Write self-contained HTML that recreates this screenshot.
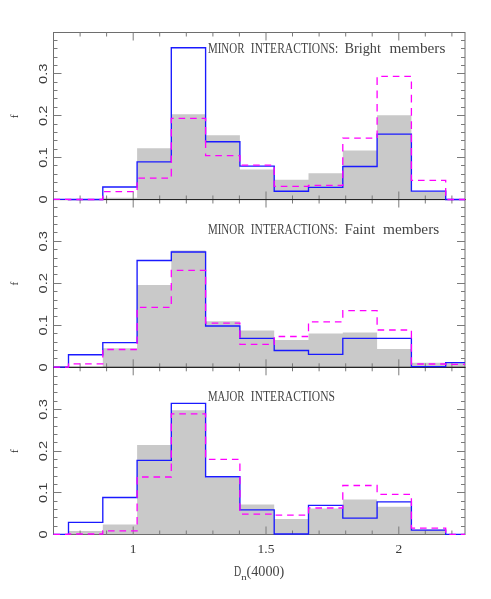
<!DOCTYPE html>
<html><head><meta charset="utf-8"><title>Dn4000 histograms</title>
<style>html,body{margin:0;padding:0;background:#fff;}body{width:491px;height:599px;overflow:hidden;font-family:"Liberation Sans",sans-serif;}svg{display:block;will-change:transform;}</style></head>
<body>
<svg width="491" height="599" viewBox="0 0 491 599">
<rect width="491" height="599" fill="#fff"/>
<path d="M68.5,199.5 L68.5,199.5 L102.8,199.5 L102.8,197.7 L137.1,197.7 L137.1,148.2 L171.3,148.2 L171.3,114.2 L205.6,114.2 L205.6,135.2 L239.9,135.2 L239.9,169.4 L274.2,169.4 L274.2,179.8 L308.5,179.8 L308.5,173.3 L342.8,173.3 L342.8,150.4 L377.1,150.4 L377.1,115.2 L411.4,115.2 L411.4,191.5 L445.7,191.5 L445.7,199.5 L465.0,199.5 L465.0,199.5 Z" fill="#c9c9c9"/>
<path d="M68.5,367.3 L68.5,367.3 L102.8,367.3 L102.8,348.2 L137.1,348.2 L137.1,285.0 L171.3,285.0 L171.3,250.4 L205.6,250.4 L205.6,321.2 L239.9,321.2 L239.9,330.6 L274.2,330.6 L274.2,340.0 L308.5,340.0 L308.5,333.5 L342.8,333.5 L342.8,332.6 L377.1,332.6 L377.1,348.9 L411.4,348.9 L411.4,362.8 L445.7,362.8 L445.7,363.2 L465.0,363.2 L465.0,367.3 Z" fill="#c9c9c9"/>
<path d="M68.5,534.5 L68.5,530.9 L102.8,530.9 L102.8,524.4 L137.1,524.4 L137.1,445.1 L171.3,445.1 L171.3,410.2 L205.6,410.2 L205.6,477.5 L239.9,477.5 L239.9,504.4 L274.2,504.4 L274.2,519.1 L308.5,519.1 L308.5,508.6 L342.8,508.6 L342.8,499.5 L377.1,499.5 L377.1,506.7 L411.4,506.7 L411.4,529.5 L445.7,529.5 L445.7,534.5 L465.0,534.5 L465.0,534.5 Z" fill="#c9c9c9"/>
<rect x="53.5" y="32.5" width="411.5" height="167.0" fill="none" stroke="#6e6e6e" stroke-width="1"/>
<path d="M80.1,199.5v-4M80.1,32.5v4M106.6,199.5v-4M106.6,32.5v4M133.2,199.5v-8M133.2,32.5v8M159.7,199.5v-4M159.7,32.5v4M186.3,199.5v-4M186.3,32.5v4M212.9,199.5v-4M212.9,32.5v4M239.4,199.5v-4M239.4,32.5v4M266.0,199.5v-8M266.0,32.5v8M292.5,199.5v-4M292.5,32.5v4M319.1,199.5v-4M319.1,32.5v4M345.7,199.5v-4M345.7,32.5v4M372.2,199.5v-4M372.2,32.5v4M398.8,199.5v-8M398.8,32.5v8M425.3,199.5v-4M425.3,32.5v4M451.9,199.5v-4M451.9,32.5v4M53.5,199.5h8M465.0,199.5h-8M53.5,191.5h4M465.0,191.5h-4M53.5,182.5h4M465.0,182.5h-4M53.5,174.5h4M465.0,174.5h-4M53.5,165.5h4M465.0,165.5h-4M53.5,157.5h8M465.0,157.5h-8M53.5,149.5h4M465.0,149.5h-4M53.5,140.5h4M465.0,140.5h-4M53.5,132.5h4M465.0,132.5h-4M53.5,124.5h4M465.0,124.5h-4M53.5,115.5h8M465.0,115.5h-8M53.5,107.5h4M465.0,107.5h-4M53.5,98.5h4M465.0,98.5h-4M53.5,90.5h4M465.0,90.5h-4M53.5,82.5h4M465.0,82.5h-4M53.5,73.5h8M465.0,73.5h-8M53.5,65.5h4M465.0,65.5h-4M53.5,57.5h4M465.0,57.5h-4M53.5,48.5h4M465.0,48.5h-4M53.5,40.5h4M465.0,40.5h-4" fill="none" stroke="#7a7a7a" stroke-width="1"/>
<rect x="53.5" y="199.5" width="411.5" height="167.8" fill="none" stroke="#6e6e6e" stroke-width="1"/>
<path d="M80.1,367.3v-4M80.1,199.5v4M106.6,367.3v-4M106.6,199.5v4M133.2,367.3v-8M133.2,199.5v8M159.7,367.3v-4M159.7,199.5v4M186.3,367.3v-4M186.3,199.5v4M212.9,367.3v-4M212.9,199.5v4M239.4,367.3v-4M239.4,199.5v4M266.0,367.3v-8M266.0,199.5v8M292.5,367.3v-4M292.5,199.5v4M319.1,367.3v-4M319.1,199.5v4M345.7,367.3v-4M345.7,199.5v4M372.2,367.3v-4M372.2,199.5v4M398.8,367.3v-8M398.8,199.5v8M425.3,367.3v-4M425.3,199.5v4M451.9,367.3v-4M451.9,199.5v4M53.5,367.5h8M465.0,367.5h-8M53.5,358.5h4M465.0,358.5h-4M53.5,350.5h4M465.0,350.5h-4M53.5,342.5h4M465.0,342.5h-4M53.5,333.5h4M465.0,333.5h-4M53.5,325.5h8M465.0,325.5h-8M53.5,316.5h4M465.0,316.5h-4M53.5,308.5h4M465.0,308.5h-4M53.5,300.5h4M465.0,300.5h-4M53.5,291.5h4M465.0,291.5h-4M53.5,283.5h8M465.0,283.5h-8M53.5,274.5h4M465.0,274.5h-4M53.5,266.5h4M465.0,266.5h-4M53.5,258.5h4M465.0,258.5h-4M53.5,249.5h4M465.0,249.5h-4M53.5,241.5h8M465.0,241.5h-8M53.5,232.5h4M465.0,232.5h-4M53.5,224.5h4M465.0,224.5h-4M53.5,216.5h4M465.0,216.5h-4M53.5,207.5h4M465.0,207.5h-4" fill="none" stroke="#7a7a7a" stroke-width="1"/>
<rect x="53.5" y="367.3" width="411.5" height="167.2" fill="none" stroke="#6e6e6e" stroke-width="1"/>
<path d="M80.1,534.5v-4M80.1,367.3v4M106.6,534.5v-4M106.6,367.3v4M133.2,534.5v-8M133.2,367.3v8M159.7,534.5v-4M159.7,367.3v4M186.3,534.5v-4M186.3,367.3v4M212.9,534.5v-4M212.9,367.3v4M239.4,534.5v-4M239.4,367.3v4M266.0,534.5v-8M266.0,367.3v8M292.5,534.5v-4M292.5,367.3v4M319.1,534.5v-4M319.1,367.3v4M345.7,534.5v-4M345.7,367.3v4M372.2,534.5v-4M372.2,367.3v4M398.8,534.5v-8M398.8,367.3v8M425.3,534.5v-4M425.3,367.3v4M451.9,534.5v-4M451.9,367.3v4M53.5,534.5h8M465.0,534.5h-8M53.5,526.5h4M465.0,526.5h-4M53.5,517.5h4M465.0,517.5h-4M53.5,509.5h4M465.0,509.5h-4M53.5,501.5h4M465.0,501.5h-4M53.5,492.5h8M465.0,492.5h-8M53.5,484.5h4M465.0,484.5h-4M53.5,476.5h4M465.0,476.5h-4M53.5,467.5h4M465.0,467.5h-4M53.5,459.5h4M465.0,459.5h-4M53.5,451.5h8M465.0,451.5h-8M53.5,442.5h4M465.0,442.5h-4M53.5,434.5h4M465.0,434.5h-4M53.5,426.5h4M465.0,426.5h-4M53.5,417.5h4M465.0,417.5h-4M53.5,409.5h8M465.0,409.5h-8M53.5,401.5h4M465.0,401.5h-4M53.5,392.5h4M465.0,392.5h-4M53.5,384.5h4M465.0,384.5h-4M53.5,376.5h4M465.0,376.5h-4" fill="none" stroke="#7a7a7a" stroke-width="1"/>
<path d="M53.0,199.6H465.5M53.0,367.4H465.5" stroke="#1c1c1c" stroke-width="1" fill="none"/>
<path d="M53.5,199.3 L68.5,199.3 L68.5,199.5 L102.8,199.5 L102.8,187.0 L137.1,187.0 L137.1,161.9 L171.3,161.9 L171.3,47.7 L205.6,47.7 L205.6,141.7 L239.9,141.7 L239.9,166.1 L274.2,166.1 L274.2,191.2 L308.5,191.2 L308.5,187.3 L342.8,187.3 L342.8,166.5 L377.1,166.5 L377.1,134.1 L411.4,134.1 L411.4,191.1 L445.7,191.1 L445.7,199.5 L465.0,199.5" fill="none" stroke="#1a1aff" stroke-width="1.35" stroke-linejoin="miter"/>
<path d="M53.5,199.3L60.1,199.3M65.0,199.3L68.5,199.3L68.5,199.5L71.4,199.5M76.3,199.5L82.9,199.5M87.8,199.5L94.4,199.5M99.3,199.5L102.8,199.5L102.8,195.8M104.0,191.6L110.6,191.6L110.6,191.6M115.5,191.6L122.1,191.6L122.1,191.6M127.0,191.6L133.6,191.6L133.6,191.6M137.1,189.9L137.1,182.3L137.1,182.3M138.4,178.2L145.0,178.2L145.0,178.2M149.9,178.2L156.5,178.2L156.5,178.2M161.4,178.2L168.0,178.2L168.0,178.2M171.3,176.4L171.3,168.8L171.3,168.8M171.3,163.1L171.3,155.5L171.3,155.5M171.3,149.8L171.3,142.2L171.3,142.2M171.3,136.5L171.3,128.9L171.3,128.9M171.3,123.2L171.3,118.3L173.7,118.3L173.7,118.3M178.6,118.3L185.2,118.3L185.2,118.3M190.1,118.3L196.7,118.3L196.7,118.3M201.6,118.3L205.6,118.3L205.6,121.3L205.6,121.3M205.6,126.9L205.6,134.6L205.6,134.6M205.6,140.2L205.6,147.9L205.6,147.9M205.6,153.5L205.6,155.7L210.4,155.7M215.3,155.7L221.9,155.7M226.8,155.7L233.4,155.7M238.3,155.7L239.9,155.7L239.9,161.4M241.6,165.2L248.2,165.2M253.1,165.2L259.7,165.2M264.6,165.2L271.2,165.2M274.2,167.3L274.2,174.9M274.2,180.6L274.2,186.3L275.9,186.3M280.8,186.3L287.4,186.3M292.3,186.3L298.9,186.3M303.8,186.3L308.5,186.3L308.5,185.4L309.7,185.4M314.6,185.4L321.2,185.4M326.1,185.4L332.7,185.4M337.6,185.4L342.8,185.4L342.8,183.9M342.8,178.2L342.8,170.6M342.8,164.9L342.8,157.3M342.8,151.6L342.8,144.0M342.8,138.3L342.8,138.2L349.3,138.2M354.2,138.2L360.8,138.2M365.7,138.2L372.3,138.2M377.1,138.1L377.1,130.5M377.1,124.8L377.1,117.2M377.1,111.5L377.1,103.9M377.1,98.2L377.1,90.6M377.1,84.9L377.1,77.3M381.3,76.4L387.9,76.4M392.8,76.4L399.4,76.4M404.3,76.4L410.9,76.4M411.4,81.4L411.4,89.1M411.4,94.7L411.4,102.4M411.4,108.0L411.4,115.7M411.4,121.3L411.4,129.0M411.4,134.6L411.4,142.3M411.4,147.9L411.4,155.6M411.4,161.2L411.4,168.9M411.4,174.5L411.4,180.3L413.1,180.3M418.0,180.3L424.6,180.3M429.5,180.3L436.1,180.3M441.0,180.3L445.7,180.3L445.7,182.4M445.7,188.1L445.7,195.7M447.4,199.5L454.0,199.5M458.9,199.5L465.0,199.5" fill="none" stroke="#ff00ff" stroke-width="1.3" stroke-linejoin="miter"/>
<path d="M53.5,367.1 L68.5,367.1 L68.5,354.7 L102.8,354.7 L102.8,342.6 L137.1,342.6 L137.1,260.5 L171.3,260.5 L171.3,252.0 L205.6,252.0 L205.6,326.0 L239.9,326.0 L239.9,338.4 L274.2,338.4 L274.2,350.5 L308.5,350.5 L308.5,354.4 L342.8,354.4 L342.8,338.3 L377.1,338.3 L377.1,338.3 L411.4,338.3 L411.4,366.6 L445.7,366.6 L445.7,362.6 L465.0,362.6" fill="none" stroke="#1a1aff" stroke-width="1.35" stroke-linejoin="miter"/>
<path d="M53.5,367.1L60.1,367.1M65.0,367.1L68.5,367.1L68.5,363.8L68.7,363.8M73.6,363.8L80.2,363.8M85.1,363.8L91.7,363.8M96.6,363.8L102.8,363.8L102.8,363.2M102.8,357.6L102.8,349.9L102.8,349.9M107.3,349.5L113.9,349.5L113.9,349.5M118.8,349.5L125.4,349.5L125.4,349.5M130.3,349.5L136.9,349.5L136.9,349.5M137.1,344.0L137.1,336.4L137.1,336.4M137.1,330.7L137.1,323.1L137.1,323.1M137.1,317.4L137.1,309.8L137.1,309.8M139.9,307.4L146.5,307.4L146.5,307.4M151.4,307.4L158.0,307.4L158.0,307.4M162.9,307.4L169.5,307.4L169.5,307.4M171.3,303.9L171.3,296.3L171.3,296.3M171.3,290.6L171.3,283.0L171.3,283.0M171.3,277.3L171.3,270.3L171.9,270.3L171.9,270.3M176.8,270.3L183.4,270.3L183.4,270.3M188.3,270.3L194.9,270.3L194.9,270.3M199.8,270.3L205.6,270.3L205.6,271.2L205.6,271.2M205.6,276.8L205.6,284.5L205.6,284.5M205.6,290.1L205.6,297.8M205.6,303.4L205.6,311.1M205.6,316.7L205.6,323.1L206.8,323.1M211.7,323.1L218.3,323.1M223.2,323.1L229.8,323.1M234.7,323.1L239.9,323.1L239.9,324.6M239.9,330.3L239.9,337.9M239.9,343.6L239.9,344.3L245.9,344.3M250.8,344.3L257.4,344.3M262.3,344.3L268.9,344.3M273.8,344.3L274.2,344.3L274.2,337.2M278.6,336.5L285.2,336.5M290.1,336.5L296.7,336.5M301.6,336.5L308.2,336.5M308.5,331.3L308.5,323.6M311.9,321.8L318.5,321.8M323.4,321.8L330.0,321.8M334.9,321.8L341.5,321.8M342.8,317.7L342.8,310.7L343.4,310.7M348.3,310.7L354.9,310.7M359.8,310.7L366.4,310.7M371.3,310.7L377.1,310.7L377.1,311.5M377.1,317.2L377.1,324.8M377.6,330.0L384.2,330.0M389.1,330.0L395.7,330.0M400.6,330.0L407.2,330.0M411.4,330.7L411.4,338.4M411.4,344.0L411.4,351.7M411.4,357.3L411.4,364.0L412.3,364.0M417.2,364.0L423.8,364.0M428.7,364.0L435.3,364.0M440.2,364.0L445.7,364.0L445.7,364.3L446.5,364.3M451.4,364.3L458.0,364.3M462.9,364.3L465.0,364.3" fill="none" stroke="#ff00ff" stroke-width="1.3" stroke-linejoin="miter"/>
<path d="M53.5,534.3 L68.5,534.3 L68.5,522.3 L102.8,522.3 L102.8,497.5 L137.1,497.5 L137.1,460.4 L171.3,460.4 L171.3,403.4 L205.6,403.4 L205.6,476.7 L239.9,476.7 L239.9,509.9 L274.2,509.9 L274.2,534.0 L308.5,534.0 L308.5,505.4 L342.8,505.4 L342.8,518.1 L377.1,518.1 L377.1,501.8 L411.4,501.8 L411.4,530.1 L445.7,530.1 L445.7,534.3 L465.0,534.3" fill="none" stroke="#1a1aff" stroke-width="1.35" stroke-linejoin="miter"/>
<path d="M53.5,534.3L60.1,534.3M65.0,534.3L68.5,534.3L68.5,534.0L71.3,534.0M76.2,534.0L82.8,534.0M87.7,534.0L94.3,534.0M99.2,534.0L102.8,534.0L102.8,530.8L103.1,530.8M108.0,530.8L114.6,530.8L114.6,530.8M119.5,530.8L126.1,530.8L126.1,530.8M131.0,530.8L137.1,530.8L137.1,530.2L137.1,530.2M137.1,524.5L137.1,516.9L137.1,516.9M137.1,511.2L137.1,503.6L137.1,503.6M137.1,497.9L137.1,490.3L137.1,490.3M137.1,484.6L137.1,477.0L137.1,477.0L137.1,477.0M142.0,477.0L148.6,477.0L148.6,477.0M153.5,477.0L160.1,477.0L160.1,477.0M165.0,477.0L171.3,477.0L171.3,476.8L171.3,476.8M171.3,471.1L171.3,463.5L171.3,463.5M171.3,457.8L171.3,450.2L171.3,450.2M171.3,444.5L171.3,436.9L171.3,436.9M171.3,431.2L171.3,423.6L171.3,423.6M171.3,417.9L171.3,413.8L174.4,413.8L174.4,413.8M179.3,413.8L185.9,413.8L185.9,413.8M190.8,413.8L197.4,413.8L197.4,413.8M202.3,413.8L205.6,413.8L205.6,417.6M205.6,423.2L205.6,430.9M205.6,436.5L205.6,444.2M205.6,449.8L205.6,457.5M208.9,459.4L215.5,459.4M220.4,459.4L227.0,459.4M231.9,459.4L238.5,459.4M239.9,463.4L239.9,471.0M239.9,476.7L239.9,484.3M239.9,490.0L239.9,497.6M239.9,503.3L239.9,510.9M242.0,514.2L248.6,514.2M253.5,514.2L260.1,514.2M265.0,514.2L271.6,514.2M275.6,515.2L282.2,515.2M287.1,515.2L293.7,515.2M298.6,515.2L305.2,515.2M308.5,513.4L308.5,508.0L310.5,508.0M315.4,508.0L322.0,508.0M326.9,508.0L333.5,508.0M338.4,508.0L342.8,508.0L342.8,505.5M342.8,499.8L342.8,492.2M342.8,486.5L342.8,485.5L348.6,485.5M353.5,485.5L360.1,485.5M365.0,485.5L371.6,485.5M376.5,485.5L377.1,485.5L377.1,492.3M380.4,494.3L387.0,494.3M391.9,494.3L398.5,494.3M403.4,494.3L410.0,494.3M411.4,498.2L411.4,505.9M411.4,511.5L411.4,519.2M411.4,524.8L411.4,528.2L415.1,528.2M420.0,528.2L426.6,528.2M431.5,528.2L438.1,528.2M443.0,528.2L445.7,528.2L445.7,532.7M449.3,534.3L455.9,534.3M460.8,534.3L465.0,534.3" fill="none" stroke="#ff00ff" stroke-width="1.3" stroke-linejoin="miter"/>
<text x="207.9" y="53.0" font-family="Liberation Serif, serif" font-size="15" fill="#444" textLength="36.6" lengthAdjust="spacingAndGlyphs">MINOR</text>
<text x="250.8" y="53.0" font-family="Liberation Serif, serif" font-size="15" fill="#444" textLength="87.4" lengthAdjust="spacingAndGlyphs">INTERACTIONS:</text>
<text x="344.4" y="53.0" font-family="Liberation Serif, serif" font-size="15" fill="#444" textLength="36.5" lengthAdjust="spacingAndGlyphs">Bright</text>
<text x="389.4" y="53.0" font-family="Liberation Serif, serif" font-size="15" fill="#444" textLength="56.0" lengthAdjust="spacingAndGlyphs">members</text>
<text transform="translate(47.2,199.5) rotate(-90) scale(1.25,1)" text-anchor="middle" font-family="Liberation Sans, sans-serif" font-size="11.8" fill="#3a3a3a">0</text>
<text transform="translate(47.2,157.6) rotate(-90) scale(1.25,1)" text-anchor="middle" font-family="Liberation Sans, sans-serif" font-size="11.8" fill="#3a3a3a">0.1</text>
<text transform="translate(47.2,115.7) rotate(-90) scale(1.25,1)" text-anchor="middle" font-family="Liberation Sans, sans-serif" font-size="11.8" fill="#3a3a3a">0.2</text>
<text transform="translate(47.2,73.8) rotate(-90) scale(1.25,1)" text-anchor="middle" font-family="Liberation Sans, sans-serif" font-size="11.8" fill="#3a3a3a">0.3</text>
<text transform="translate(18.1,116.3) rotate(-90)" text-anchor="middle" font-family="Liberation Serif, serif" font-size="11" fill="#222">f</text>
<text x="207.9" y="233.5" font-family="Liberation Serif, serif" font-size="15" fill="#444" textLength="36.6" lengthAdjust="spacingAndGlyphs">MINOR</text>
<text x="250.8" y="233.5" font-family="Liberation Serif, serif" font-size="15" fill="#444" textLength="86.8" lengthAdjust="spacingAndGlyphs">INTERACTIONS:</text>
<text x="344.4" y="233.5" font-family="Liberation Serif, serif" font-size="15" fill="#444" textLength="30.7" lengthAdjust="spacingAndGlyphs">Faint</text>
<text x="383.0" y="233.5" font-family="Liberation Serif, serif" font-size="15" fill="#444" textLength="56.2" lengthAdjust="spacingAndGlyphs">members</text>
<text transform="translate(47.2,367.3) rotate(-90) scale(1.25,1)" text-anchor="middle" font-family="Liberation Sans, sans-serif" font-size="11.8" fill="#3a3a3a">0</text>
<text transform="translate(47.2,325.3) rotate(-90) scale(1.25,1)" text-anchor="middle" font-family="Liberation Sans, sans-serif" font-size="11.8" fill="#3a3a3a">0.1</text>
<text transform="translate(47.2,283.3) rotate(-90) scale(1.25,1)" text-anchor="middle" font-family="Liberation Sans, sans-serif" font-size="11.8" fill="#3a3a3a">0.2</text>
<text transform="translate(47.2,241.3) rotate(-90) scale(1.25,1)" text-anchor="middle" font-family="Liberation Sans, sans-serif" font-size="11.8" fill="#3a3a3a">0.3</text>
<text transform="translate(18.1,283.7) rotate(-90)" text-anchor="middle" font-family="Liberation Serif, serif" font-size="11" fill="#222">f</text>
<text x="207.9" y="401.1" font-family="Liberation Serif, serif" font-size="15" fill="#444" textLength="36.6" lengthAdjust="spacingAndGlyphs">MAJOR</text>
<text x="250.8" y="401.1" font-family="Liberation Serif, serif" font-size="15" fill="#444" textLength="84.2" lengthAdjust="spacingAndGlyphs">INTERACTIONS</text>
<text transform="translate(47.2,534.5) rotate(-90) scale(1.25,1)" text-anchor="middle" font-family="Liberation Sans, sans-serif" font-size="11.8" fill="#3a3a3a">0</text>
<text transform="translate(47.2,492.8) rotate(-90) scale(1.25,1)" text-anchor="middle" font-family="Liberation Sans, sans-serif" font-size="11.8" fill="#3a3a3a">0.1</text>
<text transform="translate(47.2,451.1) rotate(-90) scale(1.25,1)" text-anchor="middle" font-family="Liberation Sans, sans-serif" font-size="11.8" fill="#3a3a3a">0.2</text>
<text transform="translate(47.2,409.4) rotate(-90) scale(1.25,1)" text-anchor="middle" font-family="Liberation Sans, sans-serif" font-size="11.8" fill="#3a3a3a">0.3</text>
<text transform="translate(18.1,451.2) rotate(-90)" text-anchor="middle" font-family="Liberation Serif, serif" font-size="11" fill="#222">f</text>
<text x="133.2" y="552.6" text-anchor="middle" font-family="Liberation Serif, serif" font-size="13.5" fill="#3a3a3a">1</text>
<text x="266.0" y="552.6" text-anchor="middle" font-family="Liberation Serif, serif" font-size="13.5" fill="#3a3a3a">1.5</text>
<text x="398.8" y="552.6" text-anchor="middle" font-family="Liberation Serif, serif" font-size="13.5" fill="#3a3a3a">2</text>
<text x="233.9" y="575.7" font-family="Liberation Serif, serif" font-size="15" fill="#444" textLength="7.2" lengthAdjust="spacingAndGlyphs">D</text>
<text x="241.2" y="579.6" font-family="Liberation Serif, serif" font-size="8" fill="#444" textLength="5.4" lengthAdjust="spacingAndGlyphs">n</text>
<text x="246.5" y="575.7" font-family="Liberation Serif, serif" font-size="15" fill="#444" textLength="37.8" lengthAdjust="spacingAndGlyphs">(4000)</text>
</svg>
</body></html>
